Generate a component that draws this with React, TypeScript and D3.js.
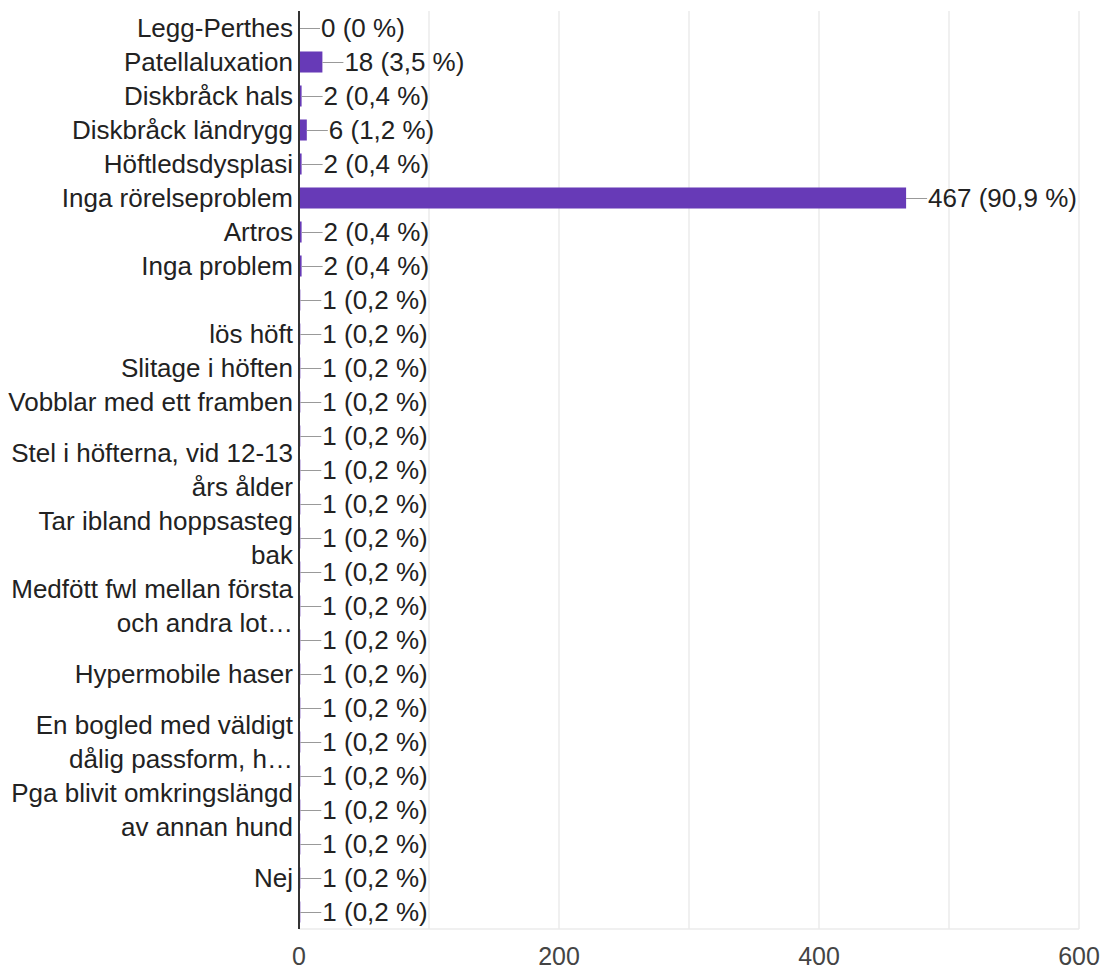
import React, { useMemo } from "react";
import * as d3 from "d3";

const categories: string[] = [
  "Legg-Perthes",
  "Patellaluxation",
  "Diskbråck hals",
  "Diskbråck ländrygg",
  "Höftledsdysplasi",
  "Inga rörelseproblem",
  "Artros",
  "Inga problem",
  "",
  "lös höft",
  "Slitage i höften",
  "Vobblar med ett framben",
  "",
  "Stel i höfterna, vid 12-13 års ålder",
  "",
  "Tar ibland hoppsasteg bak",
  "",
  "Medfött fwl mellan första och andra lot…",
  "",
  "Hypermobile haser",
  "",
  "En bogled med väldigt dålig passform, h…",
  "",
  "Pga blivit omkringslängd av annan hund",
  "",
  "Nej",
  "",
];

const values: number[] = [
  0, 18, 2, 6, 2, 467, 2, 2, 1, 1, 1, 1, 1, 1, 1, 1, 1, 1, 1, 1, 1, 1, 1, 1, 1, 1, 1,
];

const respondents = 514;
const xTicks: number[] = [0, 200, 400, 600];
const gridValues: number[] = [100, 200, 300, 400, 500, 600];

const W = 1104;
const H = 969;
const FONT = "'Liberation Sans', Arial, sans-serif";
const FS = 26;
const TFS = 25;

function measure(text: string): number {
  const c = document.createElement("canvas");
  const ctx = c.getContext("2d")!;
  ctx.font = `${FS}px 'Liberation Sans', Arial, sans-serif`;
  return ctx.measureText(text).width;
}

function wrap(text: string, maxW: number): string[] {
  if (!text) return [];
  const words = text.split(" ");
  const lines: string[] = [];
  let cur = "";
  for (const w of words) {
    const t = cur ? cur + " " + w : w;
    if (cur && measure(t) > maxW) {
      lines.push(cur);
      cur = w;
    } else cur = t;
  }
  if (cur) lines.push(cur);
  return lines;
}

function pctLabel(v: number): string {
  const p = Math.round((v / respondents) * 1000) / 10;
  const s = p % 1 === 0 ? String(p) : p.toFixed(1).replace(".", ",");
  return `${v} (${s} %)`;
}

export default function App() {
  const x = d3.scaleLinear().domain([0, 600]).range([299, 1079]);
  const idx = categories.map((_, i) => String(i));
  const y = d3
    .scaleBand<string>()
    .domain(idx)
    .range([11, 929])
    .paddingInner(0.382)
    .paddingOuter(0.191);

  const wrapped = useMemo(() => categories.map((c) => wrap(c, 291)), []);
  const lineH = 34;

  return (
    <svg
      width={W}
      height={H}
      style={{ position: "absolute", left: 0, top: 0, background: "#fff" }}
      fontFamily={FONT}
    >
      {gridValues.map((g) => (
        <line
          key={"g" + g}
          x1={x(g)}
          x2={x(g)}
          y1={11}
          y2={929}
          stroke="#ebebeb"
          strokeWidth={1.5}
        />
      ))}
      <line x1={x(0)} x2={x(600)} y1={929} y2={929} stroke="#ebebeb" strokeWidth={1.5} />

      {values.map((v, i) => {
        const yc = (y(String(i)) as number) + y.bandwidth() / 2;
        const ly = Math.round(yc) + 0.5;
        const x0 = x(0);
        const x1 = x(v);
        return (
          <g key={"b" + i}>
            {v > 0 && (
              <rect
                x={x0}
                y={y(String(i))}
                width={x1 - x0}
                height={y.bandwidth()}
                fill="#673ab7"
              />
            )}
            <line x1={x1} x2={x1 + 21} y1={ly} y2={ly} stroke="#999" strokeWidth={1} />
            <text x={x1 + 22} y={yc} dy="0.36em" fontSize={FS} fill="#222">
              {pctLabel(v)}
            </text>
          </g>
        );
      })}

      <line x1={x(0)} x2={x(0)} y1={11} y2={929} stroke="#333" strokeWidth={2} />

      {wrapped.map((lines, i) => {
        const yc = (y(String(i)) as number) + y.bandwidth() / 2;
        const top = yc - ((lines.length - 1) * lineH) / 2;
        return (
          <text key={"l" + i} x={293} textAnchor="end" fontSize={FS} fill="#222">
            {lines.map((ln, j) => (
              <tspan key={j} x={293} y={top + j * lineH} dy="0.36em">
                {ln}
              </tspan>
            ))}
          </text>
        );
      })}

      {xTicks.map((t) => (
        <text
          key={"t" + t}
          x={x(t)}
          y={965}
          textAnchor="middle"
          fontSize={TFS}
          fill="#444"
        >
          {t}
        </text>
      ))}
    </svg>
  );
}
